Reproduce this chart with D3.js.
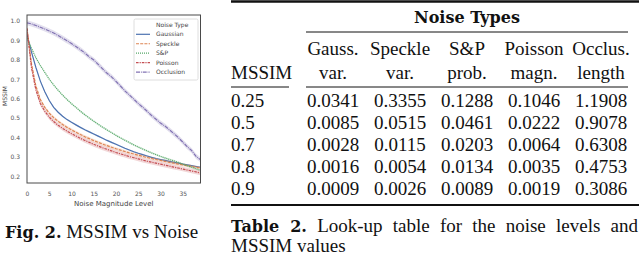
<!DOCTYPE html>
<html>
<head>
<meta charset="utf-8">
<script src="https://cdn.jsdelivr.net/npm/d3@7"></script>
<style>
body { margin: 0; background: #fff; }
svg { display: block; }
.sans { font-family: "DejaVu Sans", sans-serif; }
.serif { font-family: "Liberation Serif", "Times New Roman", serif; }
.bold { font-family: "DejaVu Serif", serif; font-weight: bold; }
</style>
</head>
<body>
<svg width="640" height="261"></svg>
<script>
// noise magnitude levels (x)
var levels = [0,1,2,3,4,5,6,7,8,9,10,11,12,13,14,15,16,17,18,19,20,21,22,23,24,25,26,27,28,29,30,31,32,33,34,35,36,37,38,39];

// mean MSSIM per noise type
var gaussian = [0.93,0.84,0.76,0.69,0.635,0.59,0.555,0.53,0.509,0.492,0.478,0.465,0.452,0.44,0.429,0.418,0.407,0.396,0.385,0.375,0.365,0.355,0.345,0.336,0.327,0.319,0.312,0.305,0.298,0.292,0.287,0.282,0.277,0.272,0.268,0.263,0.259,0.255,0.251,0.247];
var speckle = [0.96,0.78,0.665,0.595,0.555,0.525,0.502,0.483,0.467,0.452,0.439,0.427,0.415,0.404,0.394,0.384,0.375,0.366,0.358,0.35,0.342,0.335,0.328,0.321,0.315,0.309,0.303,0.297,0.292,0.287,0.282,0.277,0.272,0.268,0.263,0.259,0.255,0.251,0.247,0.243];
var saltPepper = [0.91,0.86,0.81,0.77,0.735,0.70,0.67,0.643,0.618,0.595,0.574,0.555,0.535,0.517,0.5,0.484,0.468,0.453,0.439,0.425,0.411,0.398,0.386,0.374,0.362,0.351,0.341,0.331,0.321,0.312,0.303,0.295,0.287,0.28,0.272,0.263,0.255,0.247,0.239,0.231];
var poisson = [0.96,0.76,0.645,0.575,0.535,0.505,0.482,0.463,0.447,0.433,0.42,0.408,0.396,0.385,0.375,0.365,0.356,0.347,0.339,0.331,0.323,0.316,0.309,0.302,0.296,0.29,0.284,0.278,0.273,0.268,0.263,0.258,0.253,0.248,0.243,0.238,0.233,0.228,0.223,0.218];
var occlusion = [0.99,0.984,0.976,0.967,0.958,0.948,0.937,0.925,0.911,0.897,0.883,0.868,0.852,0.835,0.814,0.799,0.776,0.753,0.73,0.712,0.689,0.665,0.64,0.619,0.597,0.575,0.556,0.535,0.513,0.494,0.474,0.459,0.44,0.42,0.4,0.377,0.353,0.333,0.303,0.286];

var seriesNames = ["Gaussian", "Speckle", "S&P", "Poisson", "Occlusion"];
var seriesValues = [gaussian, speckle, saltPepper, poisson, occlusion];
// half width of the confidence band
var bandHalf = [0.004, 0.008, 0.005, 0.012, 0.013];

var xTicks = [0, 5, 10, 15, 20, 25, 30, 35];
var yTicks = [0.2, 0.3, 0.4, 0.5, 0.6, 0.7, 0.8, 0.9, 1.0];

// look-up table
var headTop = ["Gauss.", "Speckle", "S&P", "Poisson", "Occlus."];
var headBottom = ["var.", "var.", "prob.", "magn.", "length"];
var mssimRows = ["0.25", "0.5", "0.7", "0.8", "0.9"];
var gaussVar = ["0.0341", "0.0085", "0.0028", "0.0016", "0.0009"];
var speckleVar = ["0.3355", "0.0515", "0.0115", "0.0054", "0.0026"];
var spProb = ["0.1288", "0.0461", "0.0203", "0.0134", "0.0089"];
var poissonMagn = ["0.1046", "0.0222", "0.0064", "0.0035", "0.0019"];
var occlusLength = ["1.1908", "0.9078", "0.6308", "0.4753", "0.3086"];

var svg = d3.select("svg");

// ---------- line chart ----------
var x = d3.scaleLinear().domain([0, 39]).range([27, 200.5]),
    y = d3.scaleLinear().domain([0.166, 1.03]).range([183, 15]),
    z = d3.scaleOrdinal().domain(seriesNames).range(["#4c72b0", "#dd8452", "#55a868", "#c44e52", "#8172b3"]),
    dash = d3.scaleOrdinal().domain(seriesNames).range(["none", "3,1.2", "1,1", "2.6,1,1.2,1", "4,0.9,0.9,0.9"]);

var series = seriesNames.map(function(name, i) {
    return {
        id: name,
        half: bandHalf[i],
        values: seriesValues[i].map(function(v, j) { return {level: levels[j], mssim: v}; })
    };
});

svg.append("clipPath").attr("id", "plot-clip")
  .append("rect").attr("x", 27).attr("y", 15).attr("width", 173.5).attr("height", 168);

var line = d3.line()
    .x(function(d) { return x(d.level); })
    .y(function(d) { return y(d.mssim); });

var chart = svg.append("g").attr("clip-path", "url(#plot-clip)");

var person = chart.selectAll(".series")
    .data(series)
    .enter().append("g")
    .attr("class", "series");

person.append("path")
    .attr("d", function(s) {
        return d3.area()
            .x(function(d) { return x(d.level); })
            .y0(function(d) { return y(d.mssim - s.half); })
            .y1(function(d) { return y(d.mssim + s.half); })(s.values);
    })
    .attr("fill", function(s) { return z(s.id); })
    .attr("fill-opacity", 0.22);

person.append("path")
    .attr("d", function(s) { return line(s.values); })
    .attr("fill", "none")
    .attr("stroke", function(s) { return z(s.id); })
    .attr("stroke-width", 1.2)
    .attr("stroke-dasharray", function(s) { return dash(s.id); });

// axes
var xAxis = svg.append("g")
    .attr("class", "sans")
    .attr("transform", "translate(0,183)")
    .call(d3.axisBottom(x).tickValues(xTicks).tickSize(0).tickPadding(9));
var yAxis = svg.append("g")
    .attr("class", "sans")
    .attr("transform", "translate(27,0)")
    .call(d3.axisLeft(y).tickValues(yTicks).tickSize(0).tickPadding(7).tickFormat(d3.format(".1f")));
[xAxis, yAxis].forEach(function(a) {
    a.select(".domain").remove();
    a.selectAll("text").attr("fill", "#555").style("font-size", "6px").style("font-family", "DejaVu Sans, sans-serif");
});

// frame
svg.append("rect")
    .attr("x", 27).attr("y", 15).attr("width", 173.5).attr("height", 168)
    .attr("fill", "none").attr("stroke", "#4a4a4a").attr("stroke-width", 1);

svg.append("text")
    .attr("class", "sans")
    .attr("x", x(19.5)).attr("y", 206)
    .attr("text-anchor", "middle")
    .attr("fill", "#444")
    .style("font-size", "7px")
    .text("Noise Magnitude Level");

svg.append("text")
    .attr("class", "sans")
    .attr("transform", "translate(7,96) rotate(-90)")
    .attr("text-anchor", "middle")
    .attr("fill", "#444")
    .style("font-size", "6px")
    .text("MSSIM");

// legend
var legend = svg.append("g").attr("class", "sans");
legend.append("rect")
    .attr("x", 134).attr("y", 19).attr("width", 64).attr("height", 61).attr("rx", 1.5)
    .attr("fill", "#fff").attr("fill-opacity", 0.85)
    .attr("stroke", "#d6d6d6").attr("stroke-width", 0.8);
legend.append("text")
    .attr("x", 156).attr("y", 27.2)
    .attr("fill", "#444").style("font-size", "6px")
    .text("Noise Type");
var entry = legend.selectAll(".entry")
    .data(seriesNames)
    .enter().append("g")
    .attr("class", "entry")
    .attr("transform", function(d, i) { return "translate(0," + (34.3 + i * 9.45) + ")"; });
entry.append("line")
    .attr("x1", 136).attr("x2", 150)
    .attr("stroke", function(d) { return z(d); })
    .attr("stroke-width", 1.2)
    .attr("stroke-dasharray", function(d) { return dash(d); });
entry.append("text")
    .attr("x", 156).attr("dy", "0.35em")
    .attr("fill", "#444").style("font-size", "6px")
    .text(function(d) { return d; });

// caption of figure
var figCap = svg.append("text").attr("x", 5).attr("y", 237.5).attr("fill", "#111");
figCap.append("tspan").attr("class", "bold").style("font-size", "16px").text("Fig. 2.");
figCap.append("tspan").attr("class", "serif").style("font-size", "19px").text(" MSSIM vs Noise");

// ---------- table ----------
var tableCols = [gaussVar, speckleVar, spProb, poissonMagn, occlusLength];
var colX = d3.scalePoint().domain(headTop).range([333, 601]);
var rowY = d3.scalePoint().domain(mssimRows).range([106.5, 195]);

var table = svg.append("g").attr("fill", "#111");

function rule(x1, x2, yy, w) {
    table.append("line")
        .attr("x1", x1).attr("x2", x2).attr("y1", yy).attr("y2", yy)
        .attr("stroke", "#111").attr("stroke-width", w);
}
rule(231, 639, 1.5, 2.6);
rule(306, 628, 32, 1);
rule(231, 289, 87, 1);
rule(306, 628, 87, 1);
rule(231, 639, 205, 2.2);

table.append("text")
    .attr("class", "bold")
    .attr("x", 467).attr("y", 23)
    .attr("text-anchor", "middle")
    .style("font-size", "16px")
    .text("Noise Types");

table.selectAll(".head-top")
    .data(headTop)
    .enter().append("text")
    .attr("class", "serif head-top")
    .attr("x", function(d) { return colX(d); })
    .attr("y", 55)
    .attr("text-anchor", "middle")
    .style("font-size", "19px")
    .text(function(d) { return d; });

table.selectAll(".head-bottom")
    .data(headBottom)
    .enter().append("text")
    .attr("class", "serif head-bottom")
    .attr("x", function(d, i) { return colX(headTop[i]); })
    .attr("y", 79)
    .attr("text-anchor", "middle")
    .style("font-size", "19px")
    .text(function(d) { return d; });

table.append("text")
    .attr("class", "serif")
    .attr("x", 231).attr("y", 79)
    .style("font-size", "19px")
    .text("MSSIM");

table.selectAll(".row-label")
    .data(mssimRows)
    .enter().append("text")
    .attr("class", "serif row-label")
    .attr("x", 231)
    .attr("y", function(d) { return rowY(d); })
    .style("font-size", "19px")
    .text(function(d) { return d; });

tableCols.forEach(function(col, i) {
    table.selectAll(".cell-" + i)
        .data(col)
        .enter().append("text")
        .attr("class", "serif cell-" + i)
        .attr("x", colX(headTop[i]))
        .attr("y", function(d, j) { return rowY(mssimRows[j]); })
        .attr("text-anchor", "middle")
        .style("font-size", "19px")
        .text(function(d) { return d; });
});

// caption of table, first line justified
var cap1 = table.append("text").attr("x", 231).attr("y", 231.5);
cap1.append("tspan").attr("class", "bold").style("font-size", "16px").text("Table 2.");
cap1.append("tspan").attr("class", "serif").style("font-size", "19px").text(" Look-up table for the noise levels and");
var natural = cap1.node().getComputedTextLength();
cap1.attr("word-spacing", (638 - 231 - natural) / 8);

table.append("text")
    .attr("class", "serif")
    .attr("x", 231).attr("y", 252)
    .style("font-size", "19px")
    .text("MSSIM values");
</script>
</body>
</html>
